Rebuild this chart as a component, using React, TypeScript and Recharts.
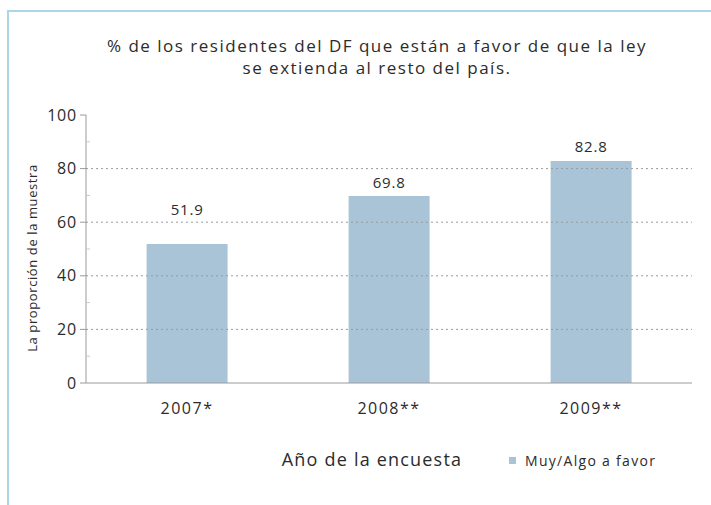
import React from 'react';
import { BarChart, Bar, XAxis, YAxis, ReferenceLine, LabelList, Legend, Label } from 'recharts';

const years = ['2007*', '2008**', '2009**'];
const favorValues = [51.9, 69.8, 82.8];
const yTicks = [0, 10, 20, 30, 40, 50, 60, 70, 80, 90, 100];
const gridValues = [20, 40, 60, 80];
const seriesName = 'Muy/Algo a favor';
const titleLines = ['% de los residentes del DF que están a favor de que la ley', 'se extienda al resto del país.'];
const yAxisTitle = 'La proporción de la muestra';
const xAxisTitle = 'Año de la encuesta';

const data = years.map((year, i) => ({ year, favor: favorValues[i] }));

const FONT = '"Open Sans", Lato, sans-serif';
const TEXT = '#2b2b2b';
const AXIS = '#9a9a9a';
const BAR = '#a9c4d6';
const labelLift = [29, 8, 9];

const YTick = (props: any) => {
  const { x, y, payload } = props;
  const major = payload.value % 20 === 0;
  return (
    <g>
      {major ? (
        <line x1={x - 6} x2={x} y1={y} y2={y} stroke={AXIS} />
      ) : (
        <line x1={x} x2={x + 4} y1={y} y2={y} stroke="#c8c8c8" />
      )}
      {major && (
        <text x={x - 9} y={y} dy="0.35em" textAnchor="end" fontSize={16} letterSpacing={0.8} fill={TEXT} fontFamily={FONT}>
          {payload.value}
        </text>
      )}
    </g>
  );
};

const BarValue = (props: any) => {
  const { x, y, width, value, index } = props;
  return (
    <text x={x + width / 2} y={y - labelLift[index]} textAnchor="middle" fontSize={15} letterSpacing={0.8} fill={TEXT} fontFamily={FONT}>
      {value}
    </text>
  );
};

const LegendContent = (props: any) => {
  const { payload } = props;
  return (
    <div style={{ display: 'flex', alignItems: 'center' }}>
      {(payload || []).map((p: any) => (
        <div key={p.value} style={{ display: 'flex', alignItems: 'center', fontFamily: FONT, fontSize: 14, color: TEXT, letterSpacing: 1.3 }}>
          <span style={{ display: 'inline-block', width: 7, height: 7, background: p.color, marginRight: 9 }} />
          {p.value}
        </div>
      ))}
    </div>
  );
};

export default function App() {
  return (
    <div style={{ position: 'absolute', left: 0, top: 0, width: 711, height: 505, background: '#fff', overflow: 'hidden' }}>
      <div
        style={{
          position: 'absolute',
          left: 7,
          top: 10,
          width: 760,
          height: 560,
          borderTop: '2px solid #a9d7e7',
          borderLeft: '2px solid #a9d7e7',
        }}
      />
      <div
        style={{
          position: 'absolute',
          left: 27,
          top: 35,
          width: 700,
          textAlign: 'center',
          fontFamily: FONT,
          fontSize: 17,
          lineHeight: '22px',
          letterSpacing: 1.5,
          color: TEXT,
        }}
      >
        {titleLines.map((t) => (
          <div key={t}>{t}</div>
        ))}
      </div>
      <BarChart
        width={711}
        height={505}
        data={data}
        margin={{ top: 115, right: 19, left: 46, bottom: 92 }}
        barCategoryGap="30%"
        style={{ position: 'absolute', left: 0, top: 0 }}
      >
        {gridValues.map((v) => (
          <ReferenceLine key={v} y={v} stroke="#9a9a9a" strokeDasharray="2 3" />
        ))}
        <XAxis
          dataKey="year"
          height={30}
          tickLine={false}
          tickSize={0}
          tickMargin={20}
          axisLine={{ stroke: AXIS }}
          tick={{ fontSize: 16, fill: TEXT, fontFamily: FONT, letterSpacing: 1.5 }}
        >
          <Label
            value={xAxisTitle}
            position="bottom"
            offset={40}
            dx={-17}
            fontSize={18}
            letterSpacing={1.2}
            fill={TEXT}
            fontFamily={FONT}
          />
        </XAxis>
        <XAxis xAxisId="top" dataKey="year" orientation="top" height={0} tick={false} tickLine={false} axisLine={{ stroke: '#b5b5b5' }} />
        <YAxis
          domain={[0, 100]}
          ticks={yTicks}
          interval={0}
          width={40}
          tickLine={false}
          tickSize={0}
          tickMargin={0}
          axisLine={{ stroke: AXIS }}
          tick={<YTick />}
        >
          <Label
            content={(p: any) => {
              const vb = p.viewBox;
              const cx = 32;
              const cy = vb.y + vb.height / 2 + 9;
              return (
                <text
                  x={cx}
                  y={cy}
                  transform={`rotate(-90, ${cx}, ${cy})`}
                  textAnchor="middle"
                  dominantBaseline="central"
                  fontSize={13}
                  letterSpacing={0.6}
                  fill={TEXT}
                  fontFamily={FONT}
                >
                  {yAxisTitle}
                </text>
              );
            }}
          />
        </YAxis>
        <YAxis yAxisId="right" orientation="right" domain={[0, 100]} width={0} tick={false} tickLine={false} axisLine={{ stroke: '#b5b5b5' }} />
        <Legend
          verticalAlign="middle"
          layout="horizontal"
          align="center"
          wrapperStyle={{ left: 509, top: 451, width: 'auto', height: 'auto' }}
          content={<LegendContent />}
        />
        <Bar dataKey="favor" name={seriesName} fill={BAR} isAnimationActive={false}>
          <LabelList dataKey="favor" content={<BarValue />} />
        </Bar>
      </BarChart>
    </div>
  );
}
